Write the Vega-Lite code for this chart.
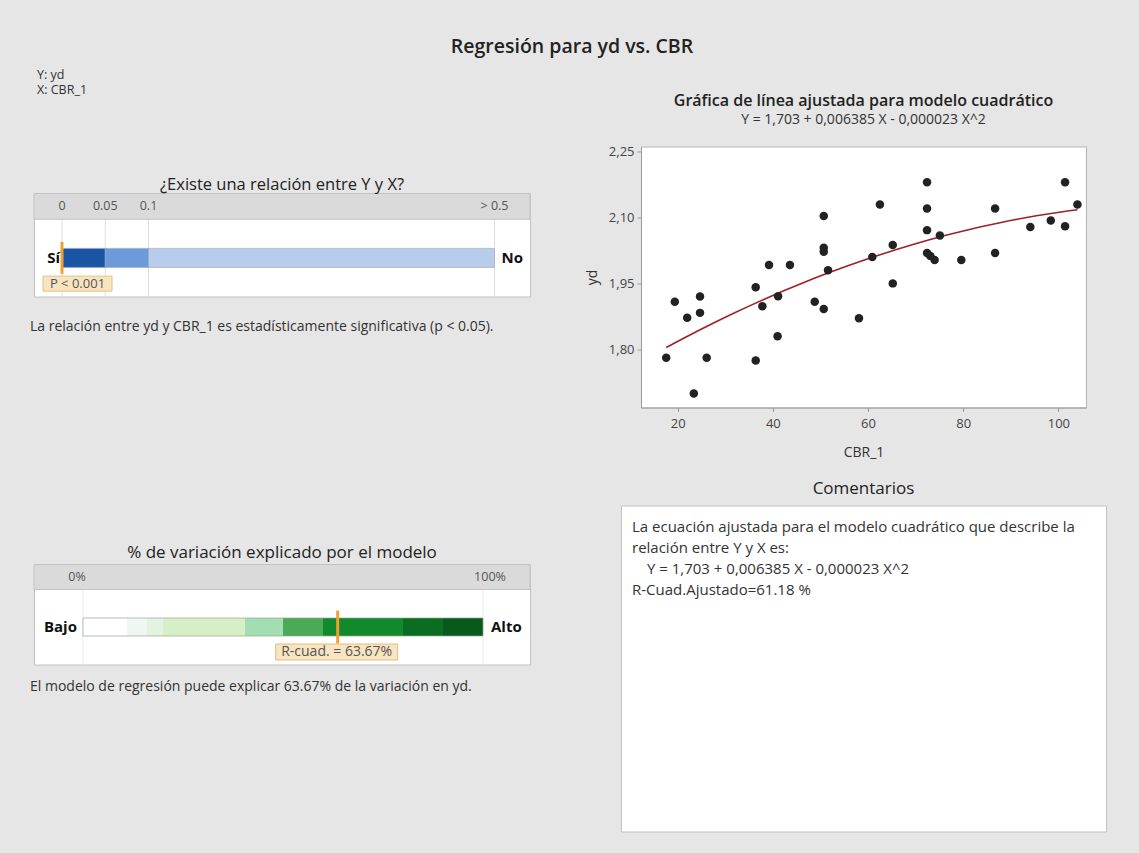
{
  "$schema": "https://vega.github.io/schema/vega-lite/v6.json",
  "background": "#e6e6e6",
  "padding": {"left": 29, "top": 36.5, "right": 60, "bottom": 60},
  "title": {"text": "Regresión para yd vs. CBR", "fontSize": 19.5, "fontWeight": 600, "anchor": "middle", "offset": 11, "dx": 4, "color": "#222"},
  "config": {
    "font": "Open Sans",
    "view": {"stroke": null},
    "title": {"color": "#222", "fontWeight": "normal"},
    "axis": {"grid": false, "labelFont": "Open Sans", "titleFont": "Open Sans", "labelColor": "#444", "titleColor": "#333", "tickColor": "#9a9a9a", "domainColor": "#9a9a9a", "labelFontSize": 13, "titleFontSize": 14, "titleFontWeight": "normal", "tickSize": 4}
  },
  "datasets": {
    "points": [
      {"CBR": 17.6, "yd": 1.781}, {"CBR": 19.4, "yd": 1.908}, {"CBR": 22.0, "yd": 1.872}, {"CBR": 23.4, "yd": 1.700},
      {"CBR": 24.7, "yd": 1.920}, {"CBR": 24.7, "yd": 1.883}, {"CBR": 26.1, "yd": 1.781}, {"CBR": 36.4, "yd": 1.775},
      {"CBR": 36.4, "yd": 1.941}, {"CBR": 37.8, "yd": 1.898}, {"CBR": 39.2, "yd": 1.992}, {"CBR": 41.0, "yd": 1.830},
      {"CBR": 41.1, "yd": 1.921}, {"CBR": 43.6, "yd": 1.992}, {"CBR": 48.8, "yd": 1.908}, {"CBR": 50.7, "yd": 2.103},
      {"CBR": 50.7, "yd": 2.031}, {"CBR": 50.7, "yd": 2.022}, {"CBR": 50.7, "yd": 1.892}, {"CBR": 51.6, "yd": 1.980},
      {"CBR": 58.1, "yd": 1.871}, {"CBR": 60.9, "yd": 2.010}, {"CBR": 62.5, "yd": 2.129}, {"CBR": 65.2, "yd": 2.037},
      {"CBR": 65.2, "yd": 1.950}, {"CBR": 72.4, "yd": 2.180}, {"CBR": 72.4, "yd": 2.120}, {"CBR": 72.4, "yd": 2.071},
      {"CBR": 72.4, "yd": 2.019}, {"CBR": 73.1, "yd": 2.012}, {"CBR": 74.0, "yd": 2.003}, {"CBR": 75.1, "yd": 2.059},
      {"CBR": 79.6, "yd": 2.003}, {"CBR": 86.7, "yd": 2.120}, {"CBR": 86.7, "yd": 2.019}, {"CBR": 94.1, "yd": 2.078},
      {"CBR": 98.4, "yd": 2.093}, {"CBR": 101.4, "yd": 2.180}, {"CBR": 101.4, "yd": 2.080}, {"CBR": 104.0, "yd": 2.129}
    ],
    "pzones": [
      {"pzone": "p1", "from": 0, "to": 0.05},
      {"pzone": "p2", "from": 0.05, "to": 0.1},
      {"pzone": "p3", "from": 0.1, "to": 0.5}
    ],
    "pticks": [
      {"p": 0, "label": "0"}, {"p": 0.05, "label": "0.05"}, {"p": 0.1, "label": "0.1"}, {"p": 0.5, "label": "> 0.5"}
    ],
    "presult": [{"p": 0, "label": "P < 0.001"}],
    "rzones": [
      {"rzone": "r1", "from": 0, "to": 11},
      {"rzone": "r2", "from": 11, "to": 16},
      {"rzone": "r3", "from": 16, "to": 20},
      {"rzone": "r4", "from": 20, "to": 40.5},
      {"rzone": "r5", "from": 40.5, "to": 50},
      {"rzone": "r6", "from": 50, "to": 60},
      {"rzone": "r7", "from": 60, "to": 80},
      {"rzone": "r8", "from": 80, "to": 90},
      {"rzone": "r9", "from": 90, "to": 100}
    ],
    "rticks": [{"pct": 0, "label": "0%"}, {"pct": 100, "label": "100%"}],
    "rresult": [{"pct": 63.67, "label": "R-cuad. = 63.67%"}],
    "comments": [
      {"line": 1, "text": "La ecuación ajustada para el modelo cuadrático que describe la"},
      {"line": 2, "text": "relación entre Y y X es:"},
      {"line": 3, "text": "\u200b\u2003Y = 1,703 + 0,006385 X - 0,000023 X^2"},
      {"line": 4, "text": "R-Cuad.Ajustado=61.18 %"}
    ]
  },
  "spacing": 18,
  "resolve": {"scale": {"color": "independent"}},
  "vconcat": [
    {
      "spacing": 53,
      "resolve": {"scale": {"color": "independent"}},
      "hconcat": [
        {
          "spacing": 0,
          "resolve": {"scale": {"color": "independent"}},
          "vconcat": [
            {
              "width": 496, "height": 29,
              "title": {"text": ["Y: yd", "X: CBR_1"], "anchor": "start", "fontSize": 12.5, "lineHeight": 15.5, "offset": 50, "dx": 3, "color": "#333"},
              "data": {"values": [{}]},
              "mark": {"type": "text"},
              "encoding": {"text": {"value": ""}}
            },
            {
              "width": 496, "height": 103,
              "view": {"fill": "white", "stroke": "#c2c2c2"},
              "title": {"text": "¿Existe una relación entre Y y X?", "fontSize": 16.5, "offset": 0},
              "layer": [
                {
                  "data": {"name": "pticks"},
                  "mark": {"type": "rule", "color": "#dedede", "strokeWidth": 1},
                  "encoding": {
                    "x": {"field": "p", "type": "quantitative", "scale": {"domain": [-0.03237, 0.54104], "nice": false, "zero": false}, "axis": null}
                  }
                },
                {
                  "data": {"values": [{}]},
                  "mark": {"type": "rect", "color": "#dadada", "stroke": "#c2c2c2", "strokeWidth": 1},
                  "encoding": {
                    "x": {"value": 0},
                    "x2": {"value": "width"},
                    "y": {"datum": "head", "type": "nominal", "scale": {"type": "band", "domain": ["head", "top", "bar", "label"], "paddingInner": 0, "paddingOuter": 0}, "axis": null}
                  }
                },
                {
                  "data": {"name": "pticks"},
                  "mark": {"type": "text", "fontSize": 12.5, "color": "#555"},
                  "encoding": {
                    "x": {"field": "p", "type": "quantitative", "scale": {"domain": [-0.03237, 0.54104], "nice": false, "zero": false}, "axis": null},
                    "y": {"datum": "head", "type": "nominal", "scale": {"type": "band", "domain": ["head", "top", "bar", "label"], "paddingInner": 0, "paddingOuter": 0}, "axis": null},
                    "text": {"field": "label"}
                  }
                },
                {
                  "data": {"name": "pzones"},
                  "mark": {"type": "bar", "size": 19, "stroke": "#9aa3b2", "strokeWidth": 0.6},
                  "encoding": {
                    "x": {"field": "from", "type": "quantitative", "scale": {"domain": [-0.03237, 0.54104], "nice": false, "zero": false}, "axis": null},
                    "x2": {"field": "to"},
                    "y": {"datum": "bar", "type": "nominal", "scale": {"type": "band", "domain": ["head", "top", "bar", "label"], "paddingInner": 0, "paddingOuter": 0}, "axis": null},
                    "color": {"field": "pzone", "type": "nominal", "scale": {"domain": ["p1", "p2", "p3"], "range": ["#1a55a5", "#6b9bd9", "#b8cdeb"]}, "legend": null}
                  }
                },
                {
                  "data": {"name": "presult"},
                  "mark": {"type": "bar", "size": 15, "color": "#f8e4c0", "stroke": "#e2c080", "strokeWidth": 1, "xOffset": -19, "x2Offset": 50},
                  "encoding": {
                    "x": {"field": "p", "type": "quantitative", "scale": {"domain": [-0.03237, 0.54104], "nice": false, "zero": false}, "axis": null},
                    "x2": {"field": "p"},
                    "y": {"datum": "label", "type": "nominal", "scale": {"type": "band", "domain": ["head", "top", "bar", "label"], "paddingInner": 0, "paddingOuter": 0}, "axis": null}
                  }
                },
                {
                  "data": {"name": "presult"},
                  "mark": {"type": "text", "fontSize": 13, "color": "#555", "dx": 15.5},
                  "encoding": {
                    "x": {"field": "p", "type": "quantitative", "scale": {"domain": [-0.03237, 0.54104], "nice": false, "zero": false}, "axis": null},
                    "y": {"datum": "label", "type": "nominal", "scale": {"type": "band", "domain": ["head", "top", "bar", "label"], "paddingInner": 0, "paddingOuter": 0}, "axis": null},
                    "text": {"field": "label"}
                  }
                },
                {
                  "data": {"name": "presult"},
                  "mark": {"type": "tick", "orient": "vertical", "size": 32, "thickness": 3, "color": "#f0a030", "opacity": 1},
                  "encoding": {
                    "x": {"field": "p", "type": "quantitative", "scale": {"domain": [-0.03237, 0.54104], "nice": false, "zero": false}, "axis": null},
                    "y": {"datum": "bar", "type": "nominal", "scale": {"type": "band", "domain": ["head", "top", "bar", "label"], "paddingInner": 0, "paddingOuter": 0}, "axis": null}
                  }
                },
                {
                  "data": {"values": [{"p": 0, "label": "Sí"}]},
                  "mark": {"type": "text", "fontSize": 15, "fontWeight": "bold", "color": "#111", "align": "right", "dx": -2},
                  "encoding": {
                    "x": {"field": "p", "type": "quantitative", "scale": {"domain": [-0.03237, 0.54104], "nice": false, "zero": false}, "axis": null},
                    "y": {"datum": "bar", "type": "nominal", "scale": {"type": "band", "domain": ["head", "top", "bar", "label"], "paddingInner": 0, "paddingOuter": 0}, "axis": null},
                    "text": {"field": "label"}
                  }
                },
                {
                  "data": {"values": [{"p": 0.5, "label": "No"}]},
                  "mark": {"type": "text", "fontSize": 15, "fontWeight": "bold", "color": "#111", "align": "left", "dx": 7},
                  "encoding": {
                    "x": {"field": "p", "type": "quantitative", "scale": {"domain": [-0.03237, 0.54104], "nice": false, "zero": false}, "axis": null},
                    "y": {"datum": "bar", "type": "nominal", "scale": {"type": "band", "domain": ["head", "top", "bar", "label"], "paddingInner": 0, "paddingOuter": 0}, "axis": null},
                    "text": {"field": "label"}
                  }
                },
                {
                  "data": {"values": [{"p": 0, "caption": "La relación entre yd y CBR_1 es estadísticamente significativa (p < 0.05)."}]},
                  "mark": {"type": "text", "fontSize": 14, "color": "#333", "align": "left", "baseline": "middle", "dx": -32, "dy": 43},
                  "encoding": {
                    "x": {"field": "p", "type": "quantitative", "scale": {"domain": [-0.03237, 0.54104], "nice": false, "zero": false}, "axis": null},
                    "y": {"datum": "label", "type": "nominal", "scale": {"type": "band", "domain": ["head", "top", "bar", "label"], "paddingInner": 0, "paddingOuter": 0}, "axis": null},
                    "text": {"field": "caption"}
                  }
                }
              ]
            }
          ]
        },
        {
          "width": 445, "height": 261,
          "view": {"fill": "white", "stroke": "#b4b4b4"},
          "title": {"text": "Gráfica de línea ajustada para modelo cuadrático", "subtitle": "Y = 1,703 + 0,006385 X - 0,000023 X^2", "fontSize": 16, "fontWeight": 600, "subtitleFontSize": 14, "subtitleColor": "#333", "subtitlePadding": 4, "offset": 18, "anchor": "middle"},
          "data": {"name": "points"},
          "encoding": {
            "x": {"field": "CBR", "type": "quantitative", "scale": {"domain": [12.3, 105.8], "nice": false, "zero": false}, "axis": {"values": [20, 40, 60, 80, 100], "title": "CBR_1", "labelPadding": 6, "titlePadding": 15}},
            "y": {"field": "yd", "type": "quantitative", "scale": {"domain": [1.668, 2.261], "nice": false, "zero": false}, "axis": {"values": [1.8, 1.95, 2.1, 2.25], "labelExpr": "replace(format(datum.value, '.2f'), '.', ',')", "title": "yd", "labelPadding": 3, "titlePadding": 9}}
          },
          "layer": [
            {"transform": [{"regression": "yd", "on": "CBR", "method": "poly", "order": 2}], "mark": {"type": "line", "color": "#9b2228", "strokeWidth": 1.6}},
            {"mark": {"type": "circle", "size": 72, "color": "#222", "opacity": 1}}
          ]
        }
      ]
    },
    {
      "spacing": 89,
      "resolve": {"scale": {"color": "independent"}},
      "hconcat": [
        {
          "spacing": 0,
          "resolve": {"scale": {"color": "independent"}},
          "vconcat": [
            {
              "width": 496, "height": 38,
              "data": {"values": [{}]},
              "mark": {"type": "text"},
              "encoding": {"text": {"value": ""}}
            },
            {
              "width": 496, "height": 100,
              "view": {"fill": "white", "stroke": "#c2c2c2"},
              "title": {"text": "% de variación explicado por el modelo", "fontSize": 17, "offset": 2},
              "layer": [
                {
                  "data": {"name": "rticks"},
                  "mark": {"type": "rule", "color": "#ececec", "strokeWidth": 1},
                  "encoding": {
                    "x": {"field": "pct", "type": "quantitative", "scale": {"domain": [-12.25, 111.75], "nice": false, "zero": false}, "axis": null}
                  }
                },
                {
                  "data": {"values": [{}]},
                  "mark": {"type": "rect", "color": "#dadada", "stroke": "#c2c2c2", "strokeWidth": 1},
                  "encoding": {
                    "x": {"value": 0},
                    "x2": {"value": "width"},
                    "y": {"datum": "head", "type": "nominal", "scale": {"type": "band", "domain": ["head", "top", "bar", "label"], "paddingInner": 0, "paddingOuter": 0}, "axis": null}
                  }
                },
                {
                  "data": {"name": "rticks"},
                  "mark": {"type": "text", "fontSize": 12.5, "color": "#555", "dx": {"expr": "datum.pct > 50 ? 7 : -6"}},
                  "encoding": {
                    "x": {"field": "pct", "type": "quantitative", "scale": {"domain": [-12.25, 111.75], "nice": false, "zero": false}, "axis": null},
                    "y": {"datum": "head", "type": "nominal", "scale": {"type": "band", "domain": ["head", "top", "bar", "label"], "paddingInner": 0, "paddingOuter": 0}, "axis": null},
                    "text": {"field": "label"}
                  }
                },
                {
                  "data": {"name": "rzones"},
                  "mark": {"type": "bar", "size": 18},
                  "encoding": {
                    "x": {"field": "from", "type": "quantitative", "scale": {"domain": [-12.25, 111.75], "nice": false, "zero": false}, "axis": null},
                    "x2": {"field": "to"},
                    "y": {"datum": "bar", "type": "nominal", "scale": {"type": "band", "domain": ["head", "top", "bar", "label"], "paddingInner": 0, "paddingOuter": 0}, "axis": null},
                    "color": {"field": "rzone", "type": "nominal", "scale": {"domain": ["r1", "r2", "r3", "r4", "r5", "r6", "r7", "r8", "r9"], "range": ["#ffffff", "#f0f7f2", "#e3f2e1", "#d7efc6", "#a3deb3", "#4aab57", "#12892a", "#0b6d20", "#075a19"]}, "legend": null}
                  }
                },
                {
                  "data": {"values": [{"from": 0, "to": 100}]},
                  "mark": {"type": "bar", "size": 18, "fill": null, "fillOpacity": 0, "stroke": "#9aa39a", "strokeWidth": 0.7},
                  "encoding": {
                    "x": {"field": "from", "type": "quantitative", "scale": {"domain": [-12.25, 111.75], "nice": false, "zero": false}, "axis": null},
                    "x2": {"field": "to"},
                    "y": {"datum": "bar", "type": "nominal", "scale": {"type": "band", "domain": ["head", "top", "bar", "label"], "paddingInner": 0, "paddingOuter": 0}, "axis": null}
                  }
                },
                {
                  "data": {"name": "rresult"},
                  "mark": {"type": "bar", "size": 16, "color": "#f8e4c0", "stroke": "#e2c080", "strokeWidth": 1, "xOffset": -62, "x2Offset": 60},
                  "encoding": {
                    "x": {"field": "pct", "type": "quantitative", "scale": {"domain": [-12.25, 111.75], "nice": false, "zero": false}, "axis": null},
                    "x2": {"field": "pct"},
                    "y": {"datum": "label", "type": "nominal", "scale": {"type": "band", "domain": ["head", "top", "bar", "label"], "paddingInner": 0, "paddingOuter": 0}, "axis": null}
                  }
                },
                {
                  "data": {"name": "rresult"},
                  "mark": {"type": "text", "fontSize": 14, "color": "#555", "dx": -1},
                  "encoding": {
                    "x": {"field": "pct", "type": "quantitative", "scale": {"domain": [-12.25, 111.75], "nice": false, "zero": false}, "axis": null},
                    "y": {"datum": "label", "type": "nominal", "scale": {"type": "band", "domain": ["head", "top", "bar", "label"], "paddingInner": 0, "paddingOuter": 0}, "axis": null},
                    "text": {"field": "label"}
                  }
                },
                {
                  "data": {"name": "rresult"},
                  "mark": {"type": "tick", "orient": "vertical", "size": 33, "thickness": 3, "color": "#f0a030", "opacity": 1},
                  "encoding": {
                    "x": {"field": "pct", "type": "quantitative", "scale": {"domain": [-12.25, 111.75], "nice": false, "zero": false}, "axis": null},
                    "y": {"datum": "bar", "type": "nominal", "scale": {"type": "band", "domain": ["head", "top", "bar", "label"], "paddingInner": 0, "paddingOuter": 0}, "axis": null}
                  }
                },
                {
                  "data": {"values": [{"pct": 0, "label": "Bajo"}]},
                  "mark": {"type": "text", "fontSize": 15, "fontWeight": "bold", "color": "#111", "align": "right", "dx": -6},
                  "encoding": {
                    "x": {"field": "pct", "type": "quantitative", "scale": {"domain": [-12.25, 111.75], "nice": false, "zero": false}, "axis": null},
                    "y": {"datum": "bar", "type": "nominal", "scale": {"type": "band", "domain": ["head", "top", "bar", "label"], "paddingInner": 0, "paddingOuter": 0}, "axis": null},
                    "text": {"field": "label"}
                  }
                },
                {
                  "data": {"values": [{"pct": 100, "label": "Alto"}]},
                  "mark": {"type": "text", "fontSize": 15, "fontWeight": "bold", "color": "#111", "align": "left", "dx": 8},
                  "encoding": {
                    "x": {"field": "pct", "type": "quantitative", "scale": {"domain": [-12.25, 111.75], "nice": false, "zero": false}, "axis": null},
                    "y": {"datum": "bar", "type": "nominal", "scale": {"type": "band", "domain": ["head", "top", "bar", "label"], "paddingInner": 0, "paddingOuter": 0}, "axis": null},
                    "text": {"field": "label"}
                  }
                },
                {
                  "data": {"values": [{"pct": 0, "caption": "El modelo de regresión puede explicar 63.67% de la variación en yd."}]},
                  "mark": {"type": "text", "fontSize": 14, "color": "#333", "align": "left", "baseline": "middle", "dx": -53, "dy": 35},
                  "encoding": {
                    "x": {"field": "pct", "type": "quantitative", "scale": {"domain": [-12.25, 111.75], "nice": false, "zero": false}, "axis": null},
                    "y": {"datum": "label", "type": "nominal", "scale": {"type": "band", "domain": ["head", "top", "bar", "label"], "paddingInner": 0, "paddingOuter": 0}, "axis": null},
                    "text": {"field": "caption"}
                  }
                }
              ]
            }
          ]
        },
        {
          "width": 485, "height": 326,
          "view": {"fill": "white", "stroke": "#c2c2c2"},
          "title": {"text": "Comentarios", "fontSize": 17, "offset": 8},
          "data": {"name": "comments"},
          "mark": {"type": "text", "align": "left", "baseline": "middle", "fontSize": 15, "color": "#333", "dx": 11},
          "encoding": {
            "x": {"datum": 0, "type": "quantitative", "scale": {"domain": [0, 1]}, "axis": null},
            "y": {"field": "line", "type": "quantitative", "scale": {"domain": [0, 15.52], "reverse": true, "nice": false, "zero": false}, "axis": null},
            "text": {"field": "text"}
          }
        }
      ]
    }
  ]
}
